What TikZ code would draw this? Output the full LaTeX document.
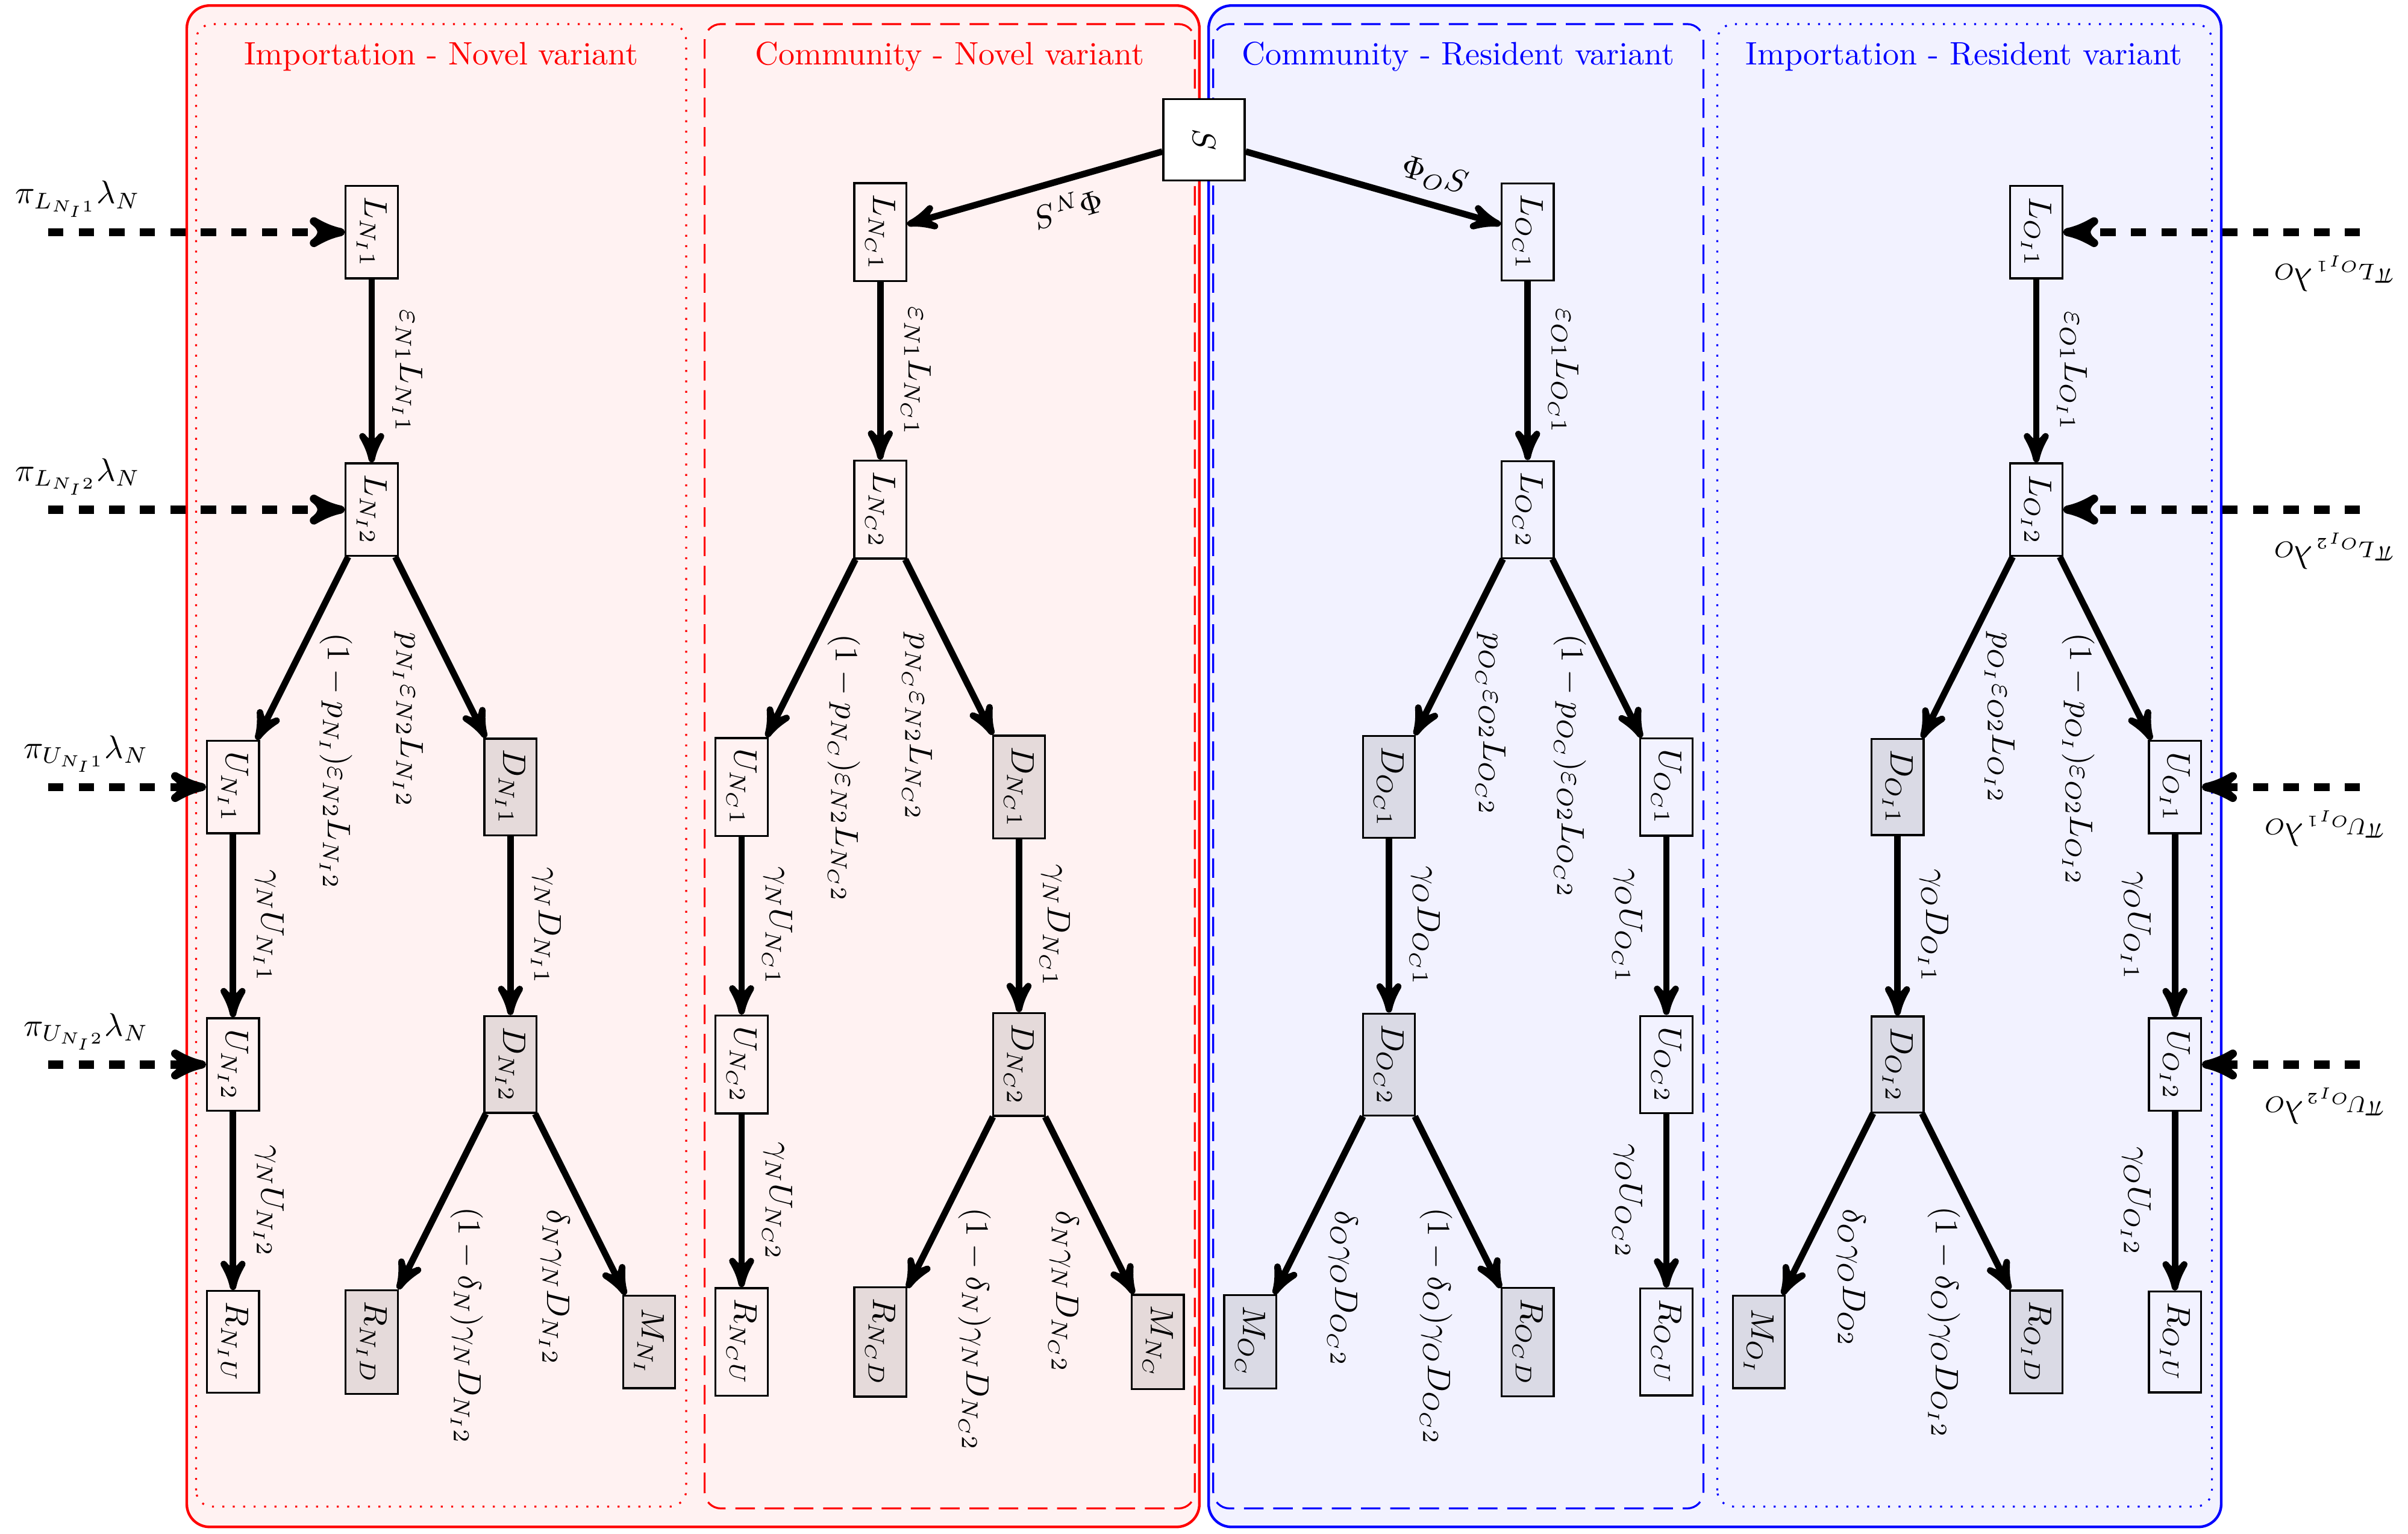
\documentclass[tikz,border=0pt]{standalone}
\usepackage{color}
\usepackage{amsmath}
\usepackage{tikz}
\usetikzlibrary{arrows}

\begin{document}
	\begin{tikzpicture}[>=stealth',
		box/.style={draw, semithick, rotate=-90, minimum width=1cm},
		nbox/.style={box, fill=red!5!white!90!black},
		obox/.style={box, fill=blue!5!white!90!black},
		flow/.style={->, line width=2pt},
		inflow/.style={->, line width=2.5pt, dash pattern=on 4.7pt off 4.7pt},
		rate/.style={rotate=-90},
		dots/.style={semithick, dash pattern=on 0.6pt off 2.6pt, rounded corners=5pt},
		dashes/.style={semithick, dash pattern=on 6pt off 3pt, rounded corners=5pt}]
		\useasboundingbox (-13.02,-15.075) rectangle (13.02,1.51);
		% variants
		\draw[red, thick, fill=red!5, rounded corners=7pt] (-11,-15) rectangle (-0.05,1.45);
		\draw[blue, thick, fill=blue!5, rounded corners=7pt] (0.05,-15) rectangle (11,1.45);
		% routes
		\draw[red, dots] (-10.9,-14.78) rectangle (-5.6,1.25);
		\draw[red, dashes] (-5.4,-14.8) rectangle (-0.1,1.25);
		\draw[blue, dashes] (0.1,-14.8) rectangle (5.4,1.25);
		\draw[blue, dots] (5.55,-14.78) rectangle (10.9,1.25);
		\node[red] (tNI) at (-8.25,0.9) {Importation - Novel variant};
		\node[red] (tNC) at (-2.75,0.9) {Community - Novel variant};
		\node[blue] (tOC) at (2.75,0.9) {Community - Resident variant};
		\node[blue] (tOI) at (8.22,0.9) {Importation - Resident variant};

		\node[box, fill=white, minimum size=0.88cm] (S) at (0,0) {$S$};

		% importation - novel
		\node[box] (LNI1) at (-9,-1) {$L_{N_I1}$};
		\node[box] (LNI2) at (-9,-4) {$L_{N_I2}$};
		\node[box] (UNI1) at (-10.5,-7) {$U_{N_I1}$};
		\node[nbox] (DNI1) at (-7.5,-7) {$D_{N_I1}$};
		\node[box] (UNI2) at (-10.5,-10) {$U_{N_I2}$};
		\node[nbox] (DNI2) at (-7.5,-10) {$D_{N_I2}$};
		\node[box] (RNIU) at (-10.5,-13) {$R_{N_IU}$};
		\node[nbox] (RNID) at (-9,-13) {$R_{N_ID}$};
		\node[nbox] (MNI) at (-6,-13) {$M_{N_I}$};
		\draw[flow] (LNI1) -- node[rate, above=2pt] {$\varepsilon_{N1}L_{N_I1}$} (LNI2);
		\draw[flow] (LNI2) -- node[rate, pos=0.34, anchor=south west, yshift=-3.5pt] {$(1-p_{N_I})\varepsilon_{N2}L_{N_I2}$} (UNI1);
		\draw[flow] (LNI2) -- node[rate, pos=0.34, anchor=north west, yshift=3.5pt] {$p_{N_I}\varepsilon_{N2}L_{N_I2}$} (DNI1);
		\draw[flow] (UNI1) -- node[rate, above=2pt] {$\gamma_N U_{N_I1}$} (UNI2);
		\draw[flow] (DNI1) -- node[rate, above=2pt] {$\gamma_N D_{N_I1}$} (DNI2);
		\draw[flow] (UNI2) -- node[rate, above=2pt] {$\gamma_N U_{N_I2}$} (RNIU);
		\draw[flow] (DNI2) -- node[rate, pos=0.45, anchor=south west, yshift=-3pt] {$(1-\delta_N)\gamma_N D_{N_I2}$} (RNID);
		\draw[flow] (DNI2) -- node[rate, pos=0.45, anchor=north west, yshift=2.5pt] {$\delta_N\gamma_N D_{N_I2}$} (MNI);

		% community - novel
		\node[box] (LNC1) at (-3.5,-1) {$L_{N_C1}$};
		\node[box] (LNC2) at (-3.5,-4) {$L_{N_C2}$};
		\node[box] (UNC1) at (-5,-7) {$U_{N_C1}$};
		\node[nbox] (DNC1) at (-2,-7) {$D_{N_C1}$};
		\node[box] (UNC2) at (-5,-10) {$U_{N_C2}$};
		\node[nbox] (DNC2) at (-2,-10) {$D_{N_C2}$};
		\node[box] (RNCU) at (-5,-13) {$R_{N_CU}$};
		\node[nbox] (RNCD) at (-3.5,-13) {$R_{N_CD}$};
		\node[nbox] (MNC) at (-0.5,-13) {$M_{N_C}$};
		\draw[flow] (S) -- node[sloped, allow upside down, above, pos=0.4] {$\Phi_N S$} (LNC1);
		\draw[flow] (LNC1) -- node[rate, above=2pt] {$\varepsilon_{N1}L_{N_C1}$} (LNC2);
		\draw[flow] (LNC2) -- node[rate, pos=0.34, anchor=south west, yshift=-3.5pt] {$(1-p_{N_C})\varepsilon_{N2}L_{N_C2}$} (UNC1);
		\draw[flow] (LNC2) -- node[rate, pos=0.34, anchor=north west, yshift=3.5pt] {$p_{N_C}\varepsilon_{N2}L_{N_C2}$} (DNC1);
		\draw[flow] (UNC1) -- node[rate, above=2pt] {$\gamma_N U_{N_C1}$} (UNC2);
		\draw[flow] (DNC1) -- node[rate, above=2pt] {$\gamma_N D_{N_C1}$} (DNC2);
		\draw[flow] (UNC2) -- node[rate, above=2pt] {$\gamma_N U_{N_C2}$} (RNCU);
		\draw[flow] (DNC2) -- node[rate, pos=0.45, anchor=south west, yshift=-3pt] {$(1-\delta_N)\gamma_N D_{N_C2}$} (RNCD);
		\draw[flow] (DNC2) -- node[rate, pos=0.45, anchor=north west, yshift=2.5pt] {$\delta_N\gamma_N D_{N_C2}$} (MNC);

		% community - resident
		\node[box] (LOC1) at (3.5,-1) {$L_{O_C1}$};
		\node[box] (LOC2) at (3.5,-4) {$L_{O_C2}$};
		\node[obox] (DOC1) at (2,-7) {$D_{O_C1}$};
		\node[box] (UOC1) at (5,-7) {$U_{O_C1}$};
		\node[obox] (DOC2) at (2,-10) {$D_{O_C2}$};
		\node[box] (UOC2) at (5,-10) {$U_{O_C2}$};
		\node[obox] (MOC) at (0.5,-13) {$M_{O_C}$};
		\node[obox] (ROCD) at (3.5,-13) {$R_{O_CD}$};
		\node[box] (ROCU) at (5,-13) {$R_{O_CU}$};
		\draw[flow] (S) -- node[sloped, above, pos=0.71] {$\Phi_O S$} (LOC1);
		\draw[flow] (LOC1) -- node[rate, above=2pt] {$\varepsilon_{O1}L_{O_C1}$} (LOC2);
		\draw[flow] (LOC2) -- node[rate, pos=0.34, anchor=south west, yshift=-3.5pt] {$p_{O_C}\varepsilon_{O2}L_{O_C2}$} (DOC1);
		\draw[flow] (LOC2) -- node[rate, pos=0.34, anchor=north west, yshift=5.5pt] {$(1-p_{O_C})\varepsilon_{O2}L_{O_C2}$} (UOC1);
		\draw[flow] (DOC1) -- node[rate, above=2pt] {$\gamma_O D_{O_C1}$} (DOC2);
		\draw[flow] (UOC1) -- node[rate, below=3pt] {$\gamma_O U_{O_C1}$} (UOC2);
		\draw[flow] (DOC2) -- node[rate, pos=0.45, anchor=south west, yshift=-3pt] {$\delta_O\gamma_O D_{O_C2}$} (MOC);
		\draw[flow] (DOC2) -- node[rate, pos=0.45, anchor=north west, yshift=4pt] {$(1-\delta_O)\gamma_O D_{O_C2}$} (ROCD);
		\draw[flow] (UOC2) -- node[rate, below=3pt] {$\gamma_O U_{O_C2}$} (ROCU);

		% importation - resident
		\node[box] (LOI1) at (9,-1) {$L_{O_I1}$};
		\node[box] (LOI2) at (9,-4) {$L_{O_I2}$};
		\node[obox] (DOI1) at (7.5,-7) {$D_{O_I1}$};
		\node[box] (UOI1) at (10.5,-7) {$U_{O_I1}$};
		\node[obox] (DOI2) at (7.5,-10) {$D_{O_I2}$};
		\node[box] (UOI2) at (10.5,-10) {$U_{O_I2}$};
		\node[obox] (MOI) at (6,-13) {$M_{O_I}$};
		\node[obox] (ROID) at (9,-13) {$R_{O_ID}$};
		\node[box] (ROIU) at (10.5,-13) {$R_{O_IU}$};
		\draw[flow] (LOI1) -- node[rate, above=2pt] {$\varepsilon_{O1}L_{O_I1}$} (LOI2);
		\draw[flow] (LOI2) -- node[rate, pos=0.34, anchor=south west, yshift=-3.5pt] {$p_{O_I}\varepsilon_{O2}L_{O_I2}$} (DOI1);
		\draw[flow] (LOI2) -- node[rate, pos=0.34, anchor=north west, yshift=5.5pt] {$(1-p_{O_I})\varepsilon_{O2}L_{O_I2}$} (UOI1);
		\draw[flow] (DOI1) -- node[rate, above=2pt] {$\gamma_O D_{O_I1}$} (DOI2);
		\draw[flow] (UOI1) -- node[rate, below=3pt] {$\gamma_O U_{O_I1}$} (UOI2);
		\draw[flow] (DOI2) -- node[rate, pos=0.45, anchor=south west, yshift=-3pt] {$\delta_O\gamma_O D_{O2}$} (MOI);
		\draw[flow] (DOI2) -- node[rate, pos=0.45, anchor=north west, yshift=4pt] {$(1-\delta_O)\gamma_O D_{O_I2}$} (ROID);
		\draw[flow] (UOI2) -- node[rate, below=3pt] {$\gamma_O U_{O_I2}$} (ROIU);

		% importations
		\coordinate (inLNI1) at (-12.5,-1);
		\coordinate (inLNI2) at (-12.5,-4);
		\coordinate (inUNI1) at (-12.5,-7);
		\coordinate (inUNI2) at (-12.5,-10);
		\coordinate (inLOI1) at (12.5,-1);
		\coordinate (inLOI2) at (12.5,-4);
		\coordinate (inUOI1) at (12.5,-7);
		\coordinate (inUOI2) at (12.5,-10);
		\draw[inflow] (inLNI1) -- node[above, pos=0.1] {$\pi_{L_{N_I1}}\lambda_N$} (LNI1);
		\draw[inflow] (inLNI2) -- node[above, pos=0.1] {$\pi_{L_{N_I2}}\lambda_N$} (LNI2);
		\draw[inflow] (inUNI1) -- node[above, pos=0.24] {$\pi_{U_{N_I1}}\lambda_N$} (UNI1);
		\draw[inflow] (inUNI2) -- node[above, pos=0.24] {$\pi_{U_{N_I2}}\lambda_N$} (UNI2);
		\draw[inflow] (inLOI1) -- node[sloped, allow upside down, above=2.6pt, pos=0.09] {$\pi_{L_{O_I1}}\lambda_O$} (LOI1);
		\draw[inflow] (inLOI2) -- node[sloped, allow upside down, above=2.6pt, pos=0.09] {$\pi_{L_{O_I2}}\lambda_O$} (LOI2);
		\draw[inflow] (inUOI1) -- node[sloped, allow upside down, above=2.6pt, pos=0.23] {$\pi_{U_{O_I1}}\lambda_O$} (UOI1);
		\draw[inflow] (inUOI2) -- node[sloped, allow upside down, above=2.6pt, pos=0.23] {$\pi_{U_{O_I2}}\lambda_O$} (UOI2);
	\end{tikzpicture}
\end{document}
